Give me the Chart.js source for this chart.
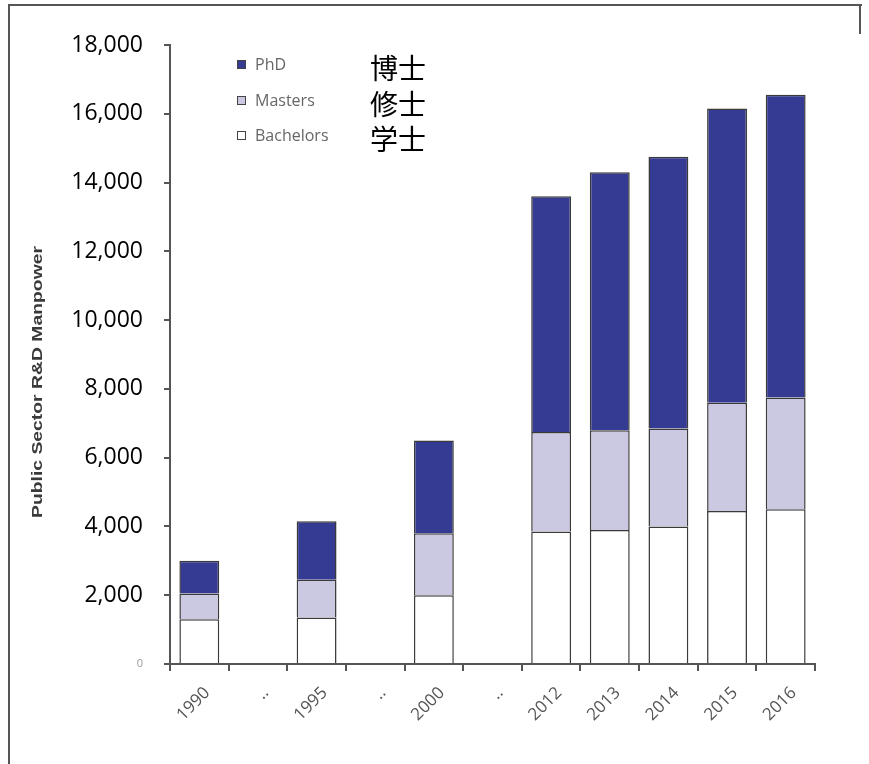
<!DOCTYPE html>
<html>
<head>
<meta charset="utf-8">
<script src="https://cdn.jsdelivr.net/npm/chart.js@4/dist/chart.umd.min.js"></script>
<style>
    html, body { margin: 0; padding: 0; background: #fff; }
    #wrap { position: relative; width: 869px; height: 764px; overflow: hidden; }
    #frame { position: absolute; left: 8px; top: 4px; width: 852px; height: 780px;
             border-left: 2px solid #555; border-top: 2px solid #555; }
    #rightEdge { position: absolute; left: 859px; top: 4px; width: 2px; height: 30px; background: #555; }
    #legend { position: absolute; left: 237px; top: 0; width: 300px; height: 160px; font-family: "Open Sans", sans-serif; }
    .item { position: absolute; left: 0; display: flex; align-items: center; white-space: nowrap;
            font-size: 16px; color: #666; transform: translateY(-50%); }
    .swatch { width: 7px; height: 7px; border: 1.5px solid #444; margin-right: 9px; }
    .cjk { position: absolute; white-space: nowrap; font-family: "Noto Sans CJK JP", sans-serif;
           font-size: 28px; color: #000; transform: translateY(-50%); line-height: 1; }
    canvas { position: absolute; left: 0; top: 0; }
</style>
</head>
<body>
<div id="wrap">
    <div id="frame"></div>
    <div id="rightEdge"></div>
    <canvas id="manpowerChart" width="869" height="764"></canvas>
    <div id="legend"></div>
</div>
<script>
    const categories = ["1990", "..", "1995", "..", "2000", "..", "2012", "2013", "2014", "2015", "2016"];
    const bachelors = [1300, null, 1350, null, 2000, null, 3850, 3900, 4000, 4450, 4500];
    const masters = [750, null, 1100, null, 1800, null, 2900, 2900, 2850, 3150, 3250];
    const phd = [950, null, 1700, null, 2700, null, 6850, 7500, 7900, 8550, 8800];
    const yTicks = [0, 2000, 4000, 6000, 8000, 10000, 12000, 14000, 16000, 18000];

    // legend rows, top to bottom, with the Japanese terms alongside
    const legendRows = [
        { label: "PhD", jp: "博士", y: 64 },
        { label: "Masters", jp: "修士", y: 100 },
        { label: "Bachelors", jp: "学士", y: 135 },
    ];

    const yTitle = "Public Sector R&D Manpower";

    // rotated y-axis title, squeezed to its fixed length
    const yTitlePlugin = {
        id: "yTitle",
        afterDraw(chart) {
            const ctx = chart.ctx;
            ctx.save();
            ctx.font = 'bold 15px "Liberation Sans Narrow", "Liberation Sans", sans-serif';
            const w = ctx.measureText(yTitle).width;
            ctx.translate(38, 382);
            ctx.rotate(-Math.PI / 2);
            ctx.scale(272 / w, 1);
            ctx.fillStyle = "#3a3a3a";
            ctx.textAlign = "center";
            ctx.textBaseline = "middle";
            ctx.fillText(yTitle, 0, 0);
            ctx.restore();
        },
    };

    const barStyle = { borderColor: "#3a3a3a", borderWidth: 1.5, barPercentage: 0.68, categoryPercentage: 1.0 };

    const ctx = document.getElementById("manpowerChart").getContext("2d");
    const chart = new Chart(ctx, {
        type: "bar",
        data: {
            labels: categories,
            datasets: [
                { label: "Bachelors", data: bachelors, backgroundColor: "#ffffff", ...barStyle },
                { label: "Masters", data: masters, backgroundColor: "#cbc9e2", ...barStyle },
                { label: "PhD", data: phd, backgroundColor: "#353a92", ...barStyle },
            ],
        },
        options: {
            responsive: false,
            animation: false,
            layout: { padding: { top: 45, left: 10, right: 54, bottom: 0 } },
            plugins: { legend: { display: false }, tooltip: { enabled: false } },
            scales: {
                x: {
                    stacked: true,
                    border: { color: "#555", width: 2 },
                    grid: { drawOnChartArea: false, drawTicks: true, tickLength: 7, color: "#555", lineWidth: 2 },
                    ticks: {
                        minRotation: 45,
                        maxRotation: 45,
                        padding: 12,
                        labelOffset: 8,
                        color: "#555",
                        font: { family: "'Open Sans', sans-serif", size: 17 },
                    },
                    afterFit(scale) { scale.height = 100; },
                },
                y: {
                    stacked: true,
                    min: 0,
                    max: 18000,
                    border: { color: "#555", width: 2 },
                    grid: { drawOnChartArea: false, drawTicks: true, tickLength: 6, color: "#555", lineWidth: 2 },
                    afterBuildTicks(scale) { scale.ticks = yTicks.map((v) => ({ value: v })); },
                    ticks: {
                        padding: 21,
                        color: (c) => (c.tick && c.tick.value === 0 ? "#999" : "#000"),
                        font: (c) => ({ family: "'Open Sans', sans-serif", size: c.tick && c.tick.value === 0 ? 11 : 23 }),
                        callback: (v) => v.toLocaleString("en-US"),
                    },
                    afterFit(scale) { scale.width = 160; },
                },
            },
        },
        plugins: [yTitlePlugin],
    });

    // legend built from the chart's own dataset styles
    const legend = document.getElementById("legend");
    legendRows.forEach((row) => {
        const ds = chart.data.datasets.find((d) => d.label === row.label);
        const item = document.createElement("div");
        item.className = "item";
        item.style.top = row.y + "px";
        item.innerHTML = `<span class="swatch" style="background:${ds.backgroundColor}"></span>${row.label}`;
        legend.appendChild(item);

        const jp = document.createElement("div");
        jp.className = "cjk";
        jp.style.top = row.y + 3 + "px";
        jp.style.left = 370 - 237 + "px";
        jp.textContent = row.jp;
        legend.appendChild(jp);
    });
</script>
</body>
</html>
